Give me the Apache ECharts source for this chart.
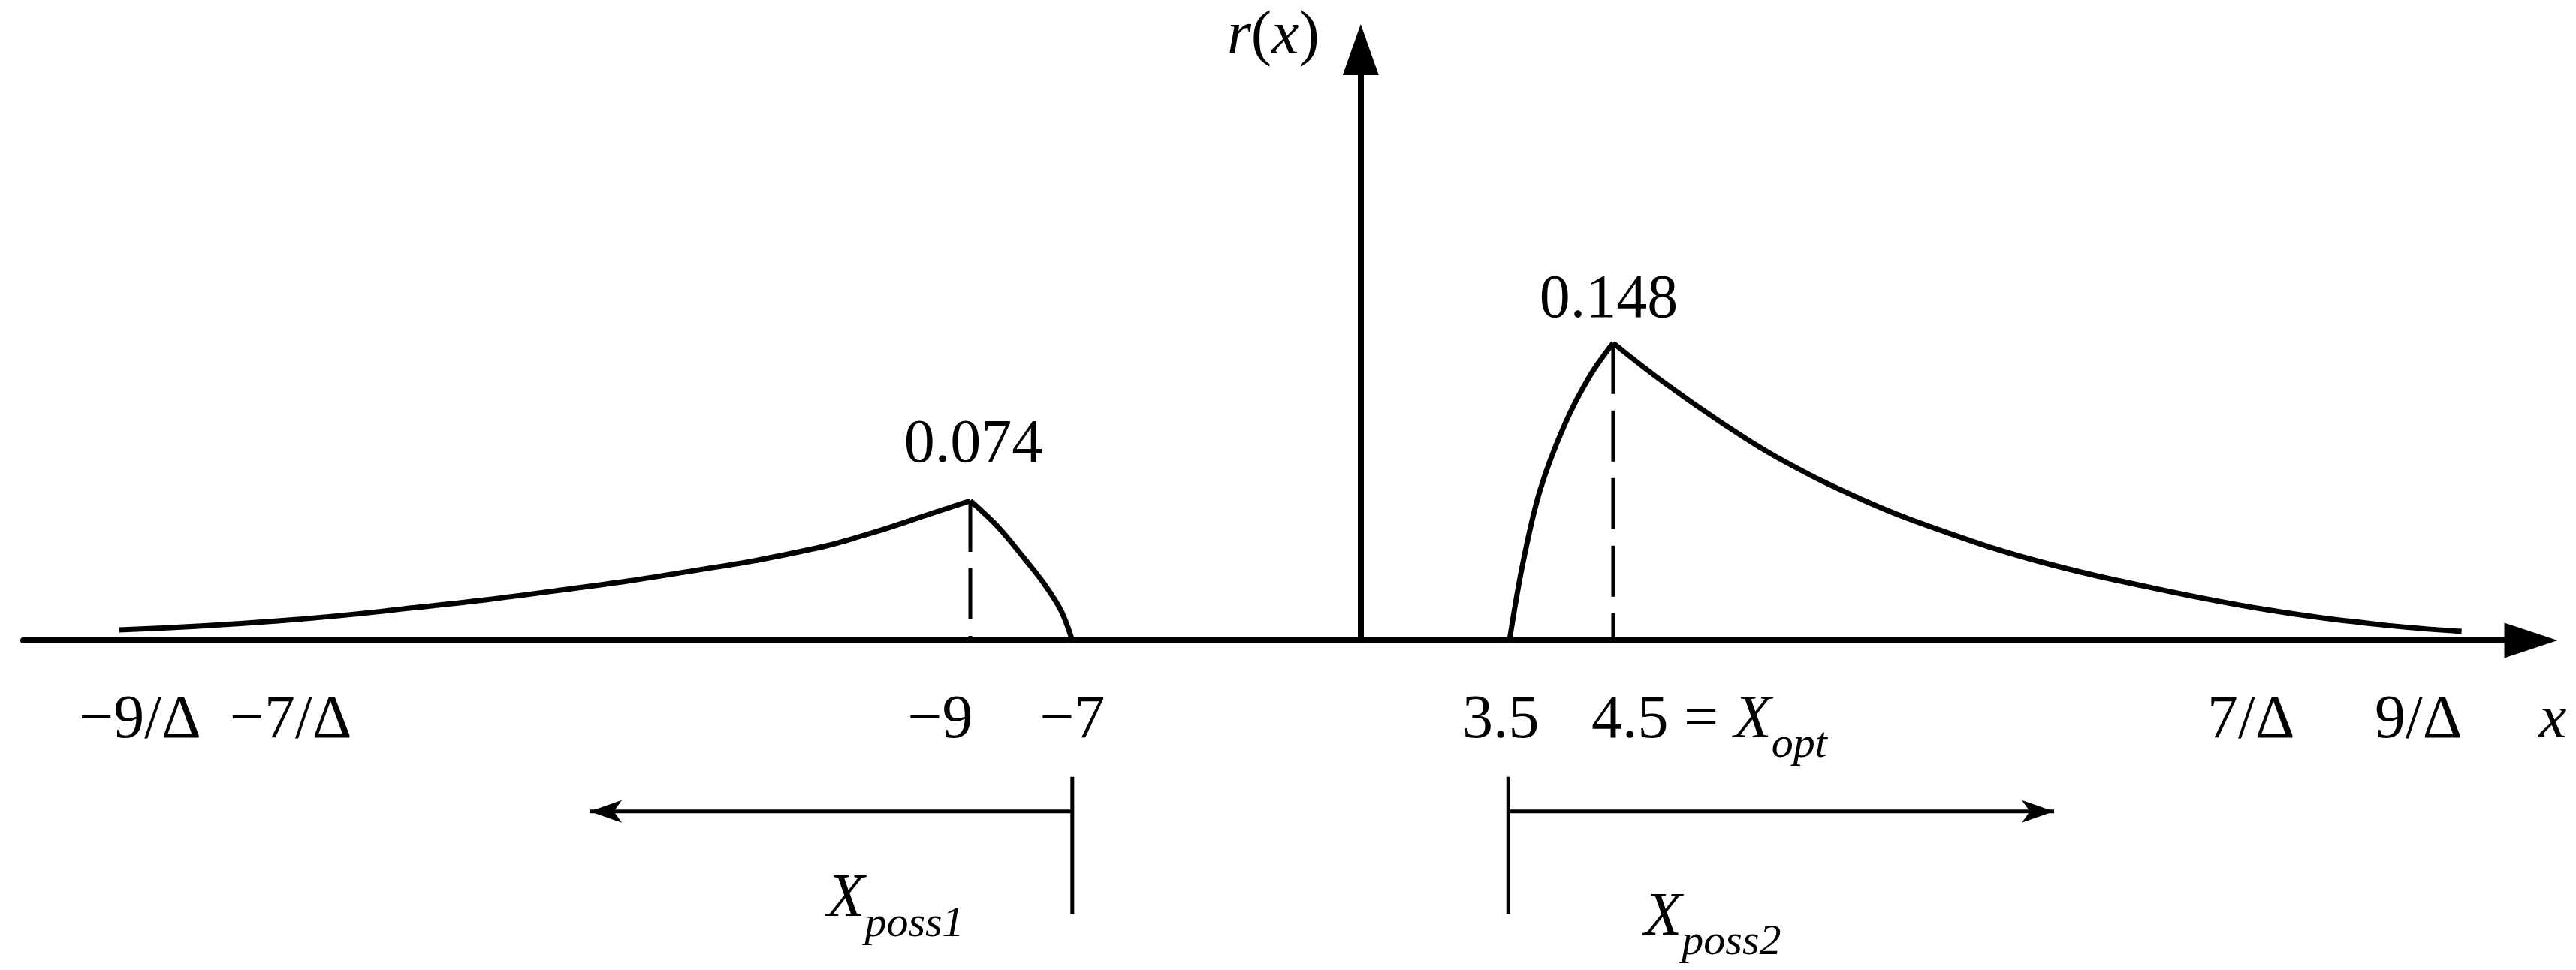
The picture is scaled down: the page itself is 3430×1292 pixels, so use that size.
<!DOCTYPE html>
<html>
<head>
<meta charset="utf-8">
<script src="https://cdn.jsdelivr.net/npm/echarts@6/dist/echarts.min.js"></script>
<style>
  html, body { margin: 0; padding: 0; background: #fff; }
  #main { width: 3430px; height: 1292px; }
</style>
</head>
<body>
<div id="main"></div>
<script>
// r(x) curves (x in axis units, origin at the r(x) axis)
var leftRiseX = [-29.70, -25.91, -22.58, -19.26, -15.93, -13.44, -11.89, -10.22, -9.34];
var leftRiseY = [0.0052, 0.0097, 0.0164, 0.0247, 0.0348, 0.0441, 0.0523, 0.0635, 0.0695];
var leftFallX = [-9.34, -8.66, -8.06, -7.58, -7.17, -6.90];
var leftFallY = [0.0695, 0.0561, 0.0411, 0.0284, 0.0149, 0];
var rightRiseX = [3.56, 3.87, 4.28, 4.87, 5.48, 6.04];
var rightRiseY = [0, 0.0374, 0.0740, 0.1069, 0.1315, 0.148];
var rightFallX = [6.04, 7.24, 8.61, 9.99, 12.06, 14.11, 16.18, 18.93, 21.67, 24.42, 26.34];
var rightFallY = [0.148, 0.1286, 0.1087, 0.0908, 0.0695, 0.0531, 0.0396, 0.0262, 0.0153, 0.0078, 0.0045];

// peaks
var peakX = [-9.34, 6.04];
var peakY = [0.0695, 0.148];
var peakLabels = ['0.074', '0.148'];

// tick labels under the x axis
var tickPos = [-29.21, -25.60, -10.06, -6.90, 3.35, 8.34, 21.30, 25.31];
var tickText = ['−9/Δ', '−7/Δ', '−9', '−7', '3.5', '4.5 = {i|X}{s|opt}', '7/Δ', '9/Δ'];

// possible ranges drawn below the axis
var possStart = [-6.90, 3.53];
var possEnd = [-18.45, 16.59];
var possBarTop = -0.068;
var possBarBottom = -0.1364;
var possArrowY = -0.0852;
var possLabelX = [-11.13, 8.42];
var possLabelY = [-0.1293, -0.1385];
var possLabels = ['{i|X}{s|poss1}', '{i|X}{s|poss2}'];

var serif = '"Liberation Serif", "Times New Roman", "DejaVu Serif", serif';
var rich = {
  i: { fontFamily: serif, fontStyle: 'italic', fontSize: 82, lineHeight: 124, color: '#000' },
  s: { fontFamily: serif, fontStyle: 'italic', fontSize: 58, lineHeight: 58, verticalAlign: 'bottom', color: '#000' }
};

function zip(xs, ys) {
  return xs.map(function (x, k) { return [x, ys[k]]; });
}

function curve(xs, ys, smooth) {
  return {
    type: 'line',
    data: zip(xs, ys),
    smooth: smooth,
    symbol: 'none',
    lineStyle: { color: '#000', width: 7 },
    z: 3
  };
}

function dropLine(k) {
  return {
    type: 'line',
    data: [[peakX[k], peakY[k]], [peakX[k], 0]],
    symbol: 'none',
    lineStyle: { color: '#000', width: 5, type: [68, 22] },
    z: 2
  };
}

function possSeries(k) {
  return [{
    type: 'line',
    xAxisIndex: 1,
    yAxisIndex: 1,
    data: [[possStart[k], possBarTop], [possStart[k], possBarBottom]],
    symbol: 'none',
    lineStyle: { color: '#000', width: 5 }
  }, {
    type: 'line',
    xAxisIndex: 1,
    yAxisIndex: 1,
    showSymbol: true,
    symbol: 'none',
    data: [
      { value: [possStart[k], possArrowY] },
      { value: [possEnd[k], possArrowY], symbol: 'arrow', symbolSize: [22.5, 43], symbolRotate: k === 0 ? 90 : -90 }
    ],
    itemStyle: { color: '#000', opacity: 1 },
    lineStyle: { color: '#000', width: 5 }
  }];
}

var chart = echarts.init(document.getElementById('main'));

var series = [
  curve(leftRiseX, leftRiseY, 0.5),
  curve(leftFallX, leftFallY, 0.35),
  curve(rightRiseX, rightRiseY, 0.35),
  curve(rightFallX, rightFallY, 0.4),
  dropLine(0),
  dropLine(1),
  {
    type: 'scatter',
    symbolSize: 1,
    itemStyle: { color: 'rgba(0,0,0,0)', opacity: 1 },
    data: peakX.map(function (x, k) {
      return {
        value: [x, peakY[k]],
        label: {
          show: true,
          position: 'top',
          distance: k === 0 ? 32 : 15,
          offset: k === 0 ? [4, 0] : [-6, 0],
          formatter: peakLabels[k],
          fontFamily: serif,
          fontSize: 82,
          lineHeight: 82,
          color: '#000',
          opacity: 1
        }
      };
    })
  },
  {
    type: 'scatter',
    xAxisIndex: 1,
    yAxisIndex: 1,
    symbolSize: 1,
    itemStyle: { color: 'rgba(0,0,0,0)', opacity: 1 },
    data: zip(possLabelX, possLabelY),
    label: {
      show: true,
      position: 'inside',
      color: '#000',
      opacity: 1,
      formatter: function (p) { return possLabels[p.dataIndex]; },
      rich: rich
    }
  }
].concat(possSeries(0), possSeries(1));

chart.setOption({
  backgroundColor: '#fff',
  animation: false,
  grid: [
    { left: 31, right: 60, top: 50, height: 803, outerBoundsMode: 'none' },
    { left: 31, right: 60, top: 1000, height: 294, outerBoundsMode: 'none' }
  ],
  xAxis: [{
    type: 'value',
    gridIndex: 0,
    min: -32,
    max: 28,
    name: 'x',
    nameLocation: 'end',
    nameGap: 11,
    nameTextStyle: {
      fontFamily: serif, fontStyle: 'italic', fontSize: 82, lineHeight: 124,
      align: 'left', verticalAlign: 'top', padding: [45, 0, 0, 0], color: '#000'
    },
    axisLine: {
      onZero: true,
      symbol: ['none', 'triangle'],
      symbolSize: [47, 71],
      lineStyle: { color: '#000', width: 8 }
    },
    axisTick: { show: false },
    splitLine: { show: false },
    axisLabel: {
      customValues: tickPos,
      margin: 45,
      fontFamily: serif,
      fontSize: 82,
      lineHeight: 124,
      color: '#000',
      rich: rich,
      formatter: function (v) {
        for (var k = 0; k < tickPos.length; k++) {
          if (Math.abs(tickPos[k] - v) < 1e-6) return tickText[k];
        }
        return '';
      }
    }
  }, {
    type: 'value',
    gridIndex: 1,
    min: -32,
    max: 28,
    show: false
  }],
  yAxis: [{
    type: 'value',
    gridIndex: 0,
    min: 0,
    max: 0.3,
    name: '{i|r}({i|x})',
    nameLocation: 'end',
    nameGap: 1,
    nameTextStyle: {
      fontFamily: serif, fontSize: 82, lineHeight: 82, color: '#000',
      align: 'right', verticalAlign: 'middle', padding: [0, 55, 0, 0],
      rich: {
        i: { fontFamily: serif, fontStyle: 'italic', fontSize: 82, lineHeight: 82, color: '#000' }
      }
    },
    axisLine: {
      show: true,
      onZero: true,
      symbol: ['none', 'triangle'],
      symbolSize: [48, 68],
      symbolOffset: [0, -16],
      lineStyle: { color: '#000', width: 8 }
    },
    axisTick: { show: false },
    axisLabel: { show: false },
    splitLine: { show: false }
  }, {
    type: 'value',
    gridIndex: 1,
    min: -0.165,
    max: -0.055,
    show: false
  }],
  series: series
});
</script>
</body>
</html>
